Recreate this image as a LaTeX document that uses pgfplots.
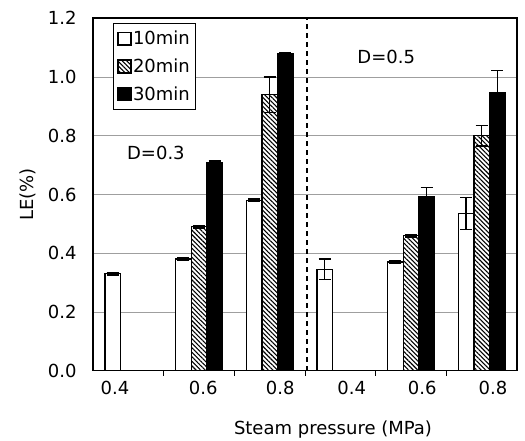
\documentclass[border=0pt]{standalone}
\usepackage{fontspec}
\setmainfont{DejaVu Sans}
\usepackage{pgfplots}
\pgfplotsset{compat=1.18}
\usetikzlibrary{patterns.meta}
\newcommand{\bigf}{\fontsize{18}{21}\selectfont}
\pgfplotsset{
  errs/.style={error bars/.cd, y dir=both, y explicit,
    error bar style={line width=1.5pt, black},
    error mark options={rotate=90, mark size=6pt, line width=1.5pt, black}},
  sq/.style={legend image code/.code={\draw[##1, line width=1.6pt] (0pt,-6.3pt) rectangle (12.6pt,6.3pt);}},
}
\begin{document}
\begin{tikzpicture}
\useasboundingbox (0pt,0pt) rectangle (525pt,441pt);
\begin{axis}[
  at={(93pt,70.3pt)}, anchor=south west,
  scale only axis, width=424pt, height=352.4pt,
  xmin=-0.5, xmax=5.5, ymin=0, ymax=1.2,
  ybar, bar width=15.6pt,
  ytick={0,0.2,0.4,0.6,0.8,1.0,1.2},
  xtick={-0.19,1.06,2.15,3.16,4.16,5.16},
  xticklabels={0.4,0.6,0.8,0.4,0.6,0.8},
  minor xtick={0.5,1.5,2.5,3.5,4.5},
  major tick length=0pt, minor tick length=5pt,
  xtick pos=bottom, ytick pos=left,
  minor tick style={line width=0.8pt, black},
  ymajorgrids, grid style={gray!75, line width=0.7pt},
  axis line style={line width=1.6pt},
  tick label style={font=\bigf},
  yticklabel style={xshift=-13pt, /pgf/number format/.cd, fixed, fixed zerofill, precision=1, assume math mode=true},
  xticklabel style={yshift=-7pt},
  label style={font=\bigf},
  xlabel={Steam pressure (MPa)},
  xlabel style={at={(axis description cs:0.566,-0.168)}, anchor=center},
  ylabel={LE(\%)},
  ylabel style={at={(axis description cs:-0.153,0.5)}, anchor=center},
  legend style={at={(rel axis cs:0.047,0.987)}, anchor=north west,
    draw=black, line width=0.8pt, font=\bigf, row sep=8.5pt,
    inner xsep=4pt, inner ysep=6pt, cells={anchor=west},
    nodes={inner xsep=1.5pt}},
]
\addplot[bar shift=-15.6pt, draw=black, line width=1.3pt, fill=white, sq, errs]
  coordinates {(0,0.33) +- (0,0.004) (1,0.38) +- (0,0.004) (2,0.58) +- (0,0.004)
               (3,0.345) +- (0,0.035) (4,0.37) +- (0,0.004) (5,0.535) +- (0,0.055)};
\addlegendentry{10min}
\addplot[bar shift=0pt, draw=black, line width=1.3pt, fill=white,
  postaction={pattern={Lines[angle=-45,distance=3.2pt,line width=1.1pt]}}, sq, errs]
  coordinates {(1,0.49) +- (0,0.004) (2,0.94) +- (0,0.06)
               (4,0.46) +- (0,0.004) (5,0.80) +- (0,0.035)};
\addlegendentry{20min}
\addplot[bar shift=15.6pt, draw=black, line width=1.3pt, fill=black, sq, errs]
  coordinates {(1,0.71) +- (0,0.004) (2,1.08) +- (0,0.004)
               (4,0.593) +- (0,0.03) (5,0.947) +- (0,0.075)};
\addlegendentry{30min}
\draw[dashed, line width=1.5pt, dash pattern=on 5pt off 4pt] (axis cs:2.53,0) -- (axis cs:2.53,1.2);
\node[font=\bigf] at (axis cs:0.39,0.741) {D=0.3};
\node[font=\bigf] at (axis cs:3.65,1.069) {D=0.5};
\end{axis}
\end{tikzpicture}
\end{document}
